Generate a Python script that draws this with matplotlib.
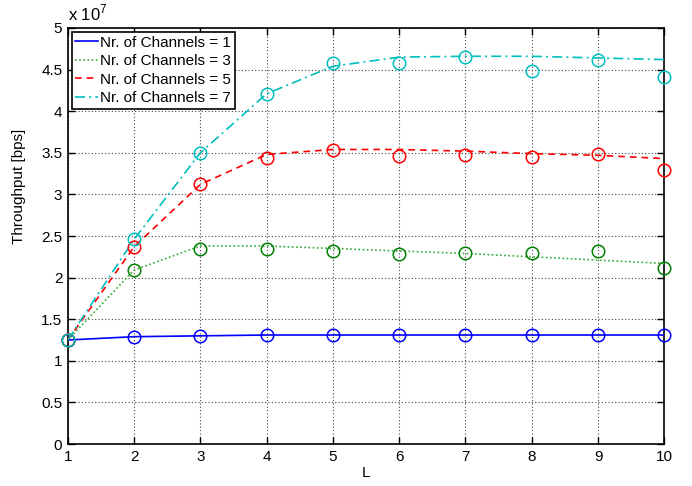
import matplotlib.pyplot as plt
from matplotlib.ticker import FormatStrFormatter

plt.rcParams['font.family'] = ['Liberation Sans', 'DejaVu Sans']
plt.rcParams['mathtext.fontset'] = 'custom'
plt.rcParams['mathtext.rm'] = 'Liberation Sans'

# Исходные данные (пропускная способность, x 10^7 бит/с)
L_vals = [1, 2, 3, 4, 5, 6, 7, 8, 9, 10]

# измеренные точки (кружки)
pts_ch1 = [1.25, 1.29, 1.30, 1.31, 1.31, 1.31, 1.31, 1.31, 1.31, 1.31]
pts_ch3 = [1.25, 2.09, 2.34, 2.34, 2.32, 2.28, 2.30, 2.30, 2.32, 2.12]
pts_ch5 = [1.25, 2.37, 3.12, 3.44, 3.53, 3.46, 3.47, 3.45, 3.49, 3.29]
pts_ch7 = [1.25, 2.46, 3.50, 4.21, 4.58, 4.58, 4.65, 4.48, 4.62, 4.41]

# сглаженные кривые
fit_ch1 = [1.25, 1.29, 1.30, 1.31, 1.31, 1.31, 1.31, 1.31, 1.31, 1.31]
fit_ch3 = [1.25, 2.09, 2.38, 2.38, 2.35, 2.32, 2.29, 2.25, 2.21, 2.17]
fit_ch5 = [1.25, 2.37, 3.12, 3.48, 3.54, 3.54, 3.52, 3.49, 3.47, 3.43]
fit_ch7 = [1.25, 2.46, 3.50, 4.21, 4.54, 4.65, 4.66, 4.66, 4.64, 4.62]

labels = ['Nr. of Channels = 1', 'Nr. of Channels = 3',
          'Nr. of Channels = 5', 'Nr. of Channels = 7']
y_ticks = [0, 0.5, 1, 1.5, 2, 2.5, 3, 3.5, 4, 4.5, 5]

fig = plt.figure(figsize=(6.92, 4.86), dpi=100)
ax = fig.add_axes([0.098, 0.0864, 0.862, 0.856])

line_col = ['#0000ff', '#33aa33', '#ff0000', '#00bfbf']
mark_col = ['#0000ff', '#008000', '#ff0000', '#00bfbf']
styles = ['-', (0, (1, 1.5)), (0, (4, 3)), (0, (6, 2.5, 1.2, 2.5))]
fits = [fit_ch1, fit_ch3, fit_ch5, fit_ch7]
pts = [pts_ch1, pts_ch3, pts_ch5, pts_ch7]

for i in range(4):
    ax.plot(L_vals, fits[i], linestyle=styles[i], color=line_col[i],
            linewidth=1.2, label=labels[i], zorder=3)
for i in range(4):
    ax.plot(L_vals, pts[i], linestyle='none', marker='o', markersize=9,
            markerfacecolor='none', markeredgecolor=mark_col[i],
            markeredgewidth=1.1, zorder=4, clip_on=False)

ax.set_xlim(1, 10)
ax.set_ylim(0, 5)
ax.set_xticks(L_vals)
ax.set_yticks(y_ticks)
ax.yaxis.set_major_formatter(FormatStrFormatter('%g'))
ax.grid(True, linestyle=(0, (1, 2)), color='#444444', linewidth=0.8)
ax.tick_params(direction='in', top=True, right=True, length=5, width=1,
               labelsize=11, pad=4)
for sp in ax.spines.values():
    sp.set_linewidth(1.2)

ax.set_xlabel('L', fontsize=11, labelpad=2)
ax.set_ylabel('Throughput [bps]', fontsize=11)
ax.yaxis.set_label_coords(-0.07, 0.62)
ax.text(0.0, 1.01, r'x $10^7$', transform=ax.transAxes, ha='left',
        va='bottom', fontsize=12)

leg = ax.legend(loc='upper left', fontsize=11, fancybox=False,
                edgecolor='black', framealpha=1, handlelength=1.5,
                handletextpad=0.1, labelspacing=0.3, borderpad=0.25,
                borderaxespad=0.25)
leg.get_frame().set_linewidth(1.2)

plt.savefig('out.png', dpi=100)
